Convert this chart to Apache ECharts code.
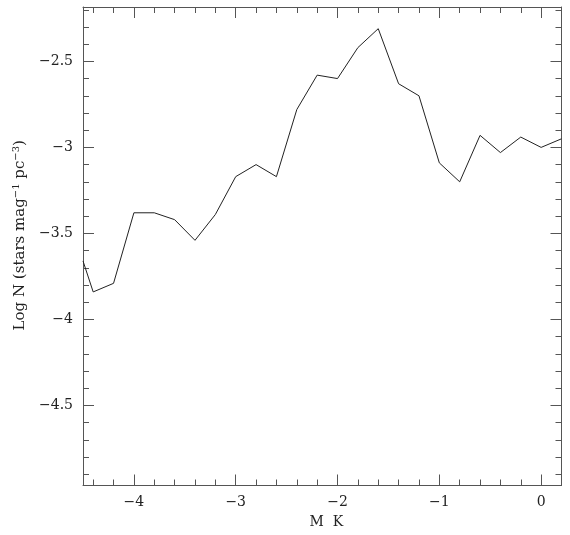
<!DOCTYPE html>
<html>
<head>
<meta charset="utf-8">
<script src="https://cdn.jsdelivr.net/npm/echarts@6/dist/echarts.min.js"></script>
<style>html,body{margin:0;padding:0;background:#fff;}#c{width:570px;height:535px;}</style>
</head>
<body>
<div id="c"></div>
<script>
// Data
var mkValues = [-4.5, -4.4, -4.2, -4.0, -3.8, -3.6, -3.4, -3.2, -3.0, -2.8, -2.6, -2.4, -2.2, -2.0, -1.8, -1.6, -1.4, -1.2, -1.0, -0.8, -0.6, -0.4, -0.2, 0.0, 0.2];
var logN = [-3.66, -3.84, -3.79, -3.38, -3.38, -3.42, -3.54, -3.39, -3.17, -3.10, -3.17, -2.78, -2.58, -2.60, -2.42, -2.31, -2.63, -2.70, -3.09, -3.20, -2.93, -3.03, -2.94, -3.00, -2.95];

var xMajorTicks = [-4, -3, -2, -1, 0];
var xMinorTicks = [-4.4, -4.2, -3.8, -3.6, -3.4, -3.2, -2.8, -2.6, -2.4, -2.2, -1.8, -1.6, -1.4, -1.2, -0.8, -0.6, -0.4, -0.2, 0.2];
var yMajorTicks = [-4.5, -4, -3.5, -3, -2.5];
var yMinorTicks = [-4.9, -4.8, -4.7, -4.6, -4.4, -4.3, -4.2, -4.1, -3.9, -3.8, -3.7, -3.6, -3.4, -3.3, -3.2, -3.1, -2.9, -2.8, -2.7, -2.6, -2.4, -2.3, -2.2];

var xRange = [-4.5, 0.2];
var yRange = [-4.965, -2.184];

var frameColor = '#555';
var textColor = '#222';
var font = 'DejaVu Serif';

function fmt(v) {
  var s = String(Math.round(v * 10) / 10);
  return s.replace('-', '\u2212');
}

function makeX(pos, ticks, len, showLine, showLabel, name) {
  var a = {
    type: 'value', position: pos, min: xRange[0], max: xRange[1],
    splitLine: {show: false},
    axisLine: {show: showLine, onZero: false, lineStyle: {color: frameColor, width: 1}},
    axisTick: {show: true, inside: true, length: len, customValues: ticks, lineStyle: {color: frameColor, width: 1}},
    axisLabel: showLabel ? {show: true, customValues: ticks, formatter: fmt, margin: 10, color: textColor, fontFamily: font, fontSize: 14} : {show: false}
  };
  if (name) {
    a.name = name; a.nameLocation = 'middle'; a.nameGap = 30;
    a.nameTextStyle = {color: textColor, fontFamily: font, fontSize: 14, padding: [0, 0, 0, 8]};
  }
  return a;
}
function makeY(pos, ticks, len, showLine, showLabel, name) {
  var a = {
    type: 'value', position: pos, min: yRange[0], max: yRange[1],
    splitLine: {show: false},
    axisLine: {show: showLine, onZero: false, lineStyle: {color: frameColor, width: 1}},
    axisTick: {show: true, inside: true, length: len, customValues: ticks, lineStyle: {color: frameColor, width: 1}},
    axisLabel: showLabel ? {show: true, customValues: ticks, formatter: fmt, margin: 10, color: textColor, fontFamily: font, fontSize: 14} : {show: false}
  };
  if (name) {
    a.name = name; a.nameLocation = 'middle'; a.nameGap = 54;
    a.nameTextStyle = {color: textColor, fontFamily: font, fontSize: 15, padding: [0, 0, 0, 22],
      rich: {sup: {fontFamily: font, fontSize: 10, verticalAlign: 'top', padding: [0, 0, 8, 0], color: textColor}}};
  }
  return a;
}

var seriesData = mkValues.map(function (x, i) { return [x, logN[i]]; });

var chart = echarts.init(document.getElementById('c'), null, {renderer: 'canvas'});
chart.setOption({
  backgroundColor: '#fff',
  animation: false,
  grid: {left: 83, top: 7, width: 478.5, height: 478.5, containLabel: false},
  xAxis: [
    makeX('bottom', xMajorTicks, 11, true, true, 'M  K'),
    makeX('bottom', xMinorTicks, 6, false, false),
    makeX('top', xMajorTicks, 11, true, false),
    makeX('top', xMinorTicks, 6, false, false)
  ],
  yAxis: [
    makeY('left', yMajorTicks, 11, true, true, 'Log N (stars mag{sup|\u22121} pc{sup|\u22123})'),
    makeY('left', yMinorTicks, 6, false, false),
    makeY('right', yMajorTicks, 11, true, false),
    makeY('right', yMinorTicks, 6, false, false)
  ],
  series: [{
    type: 'line', xAxisIndex: 0, yAxisIndex: 0,
    data: seriesData, symbol: 'none', clip: true,
    lineStyle: {color: '#222', width: 1}
  }]
});
</script>
</body>
</html>
